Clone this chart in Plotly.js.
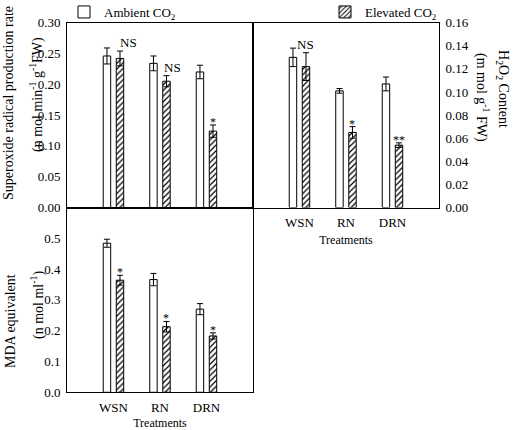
<!DOCTYPE html>
<html><head><meta charset="utf-8">
<script src="https://cdn.plot.ly/plotly-3.0.1.min.js"></script>
<style>html,body{margin:0;padding:0;background:#fff}#chart{width:520px;height:430px}</style>
</head><body><div id="chart"></div>
<script>
const categories = ['WSN', 'RN', 'DRN'];
const seriesNames = ['Ambient CO<sub>2</sub>', 'Elevated CO<sub>2</sub>'];
// Superoxide radical production rate
const supAmb = [0.246, 0.234, 0.220];
const supAmbErr = [0.013, 0.012, 0.011];
const supElev = [0.242, 0.205, 0.124];
const supElevErr = [0.012, 0.009, 0.010];
const supSig = ['NS', 'NS', '*'];
// H2O2 content
const h2o2Amb = [0.130, 0.101, 0.107];
const h2o2AmbErr = [0.008, 0.002, 0.006];
const h2o2Elev = [0.122, 0.065, 0.054];
const h2o2ElevErr = [0.012, 0.005, 0.002];
const h2o2Sig = ['NS', '*', '**'];
// MDA equivalent
const mdaAmb = [0.484, 0.366, 0.270];
const mdaAmbErr = [0.013, 0.020, 0.018];
const mdaElev = [0.364, 0.213, 0.183];
const mdaElevErr = [0.016, 0.017, 0.010];
const mdaSig = ['*', '*', '*'];

const FONT = '"Liberation Serif", "Times New Roman", serif';
const BW = 0.16;

function ambTrace(y, err, xa, ya, show) {
  return {type: 'bar', x: categories, y: y, xaxis: xa, yaxis: ya,
    name: seriesNames[0], legend: 'legend', showlegend: show,
    width: BW, offset: -0.22,
    marker: {color: '#ffffff', line: {color: '#000', width: 1}},
    error_y: {type: 'data', array: err, visible: true, color: '#000', thickness: 1, width: 3}};
}
function elevTrace(y, err, xa, ya, show) {
  return {type: 'bar', x: categories, y: y, xaxis: xa, yaxis: ya,
    name: seriesNames[1], legend: 'legend2', showlegend: show,
    width: BW, offset: 0.06,
    marker: {color: '#ffffff', line: {color: '#000', width: 1},
      pattern: {shape: '/', size: 4, solidity: 0.3, fgcolor: '#000', bgcolor: '#fff'}},
    error_y: {type: 'data', array: err, visible: true, color: '#000', thickness: 1, width: 3}};
}

const data = [
  ambTrace(supAmb, supAmbErr, 'x', 'y', true),
  elevTrace(supElev, supElevErr, 'x', 'y', true),
  ambTrace(h2o2Amb, h2o2AmbErr, 'x2', 'y2', false),
  elevTrace(h2o2Elev, h2o2ElevErr, 'x2', 'y2', false),
  ambTrace(mdaAmb, mdaAmbErr, 'x3', 'y3', false),
  elevTrace(mdaElev, mdaElevErr, 'x3', 'y3', false)
];

const X0 = 0.1288, X1 = 0.4865, X2 = 0.8442;
const Y0 = 0.0877, Y1 = 0.5174, Y2 = 0.9472;

const baseAx = {showline: true, mirror: true, linecolor: '#000', linewidth: 1,
  showgrid: false, zeroline: false, ticks: '', fixedrange: true,
  tickfont: {family: FONT, size: 13, color: '#000'}};
const xBase = Object.assign({}, baseAx, {type: 'category', range: [-1, 3], ticklabelstandoff: 3,
  title: {text: 'Treatments', font: {family: FONT, size: 12, color: '#000'}, standoff: 6}});

const annotations = [];
function sigAnn(sig, vals, errs, xa, ya, nsDx) {
  sig.forEach((s, i) => {
    const isNS = s === 'NS';
    annotations.push({xref: xa, yref: ya, x: i + (isNS ? nsDx[i] : 0.14), y: vals[i] + errs[i],
      text: s, showarrow: false, yanchor: 'bottom', xanchor: 'center',
      yshift: isNS ? -1 : -6,
      font: {family: FONT, size: isNS ? 13 : 12, color: '#000000'}});
  });
}
sigAnn(supSig, supElev, supElevErr, 'x', 'y', [0.33, 0.27, 0.14]);
sigAnn(h2o2Sig, h2o2Elev, h2o2ElevErr, 'x2', 'y2', [0.12, 0.14, 0.14]);
sigAnn(mdaSig, mdaElev, mdaElevErr, 'x3', 'y3', [0.14, 0.14, 0.14]);

const titleFont = {family: FONT, size: 14, color: '#000'};
annotations.push(
  {xref: 'paper', yref: 'paper', x: 8 / 520, y: 1 - 103 / 430, text: 'Superoxide radical production rate',
   textangle: -90, showarrow: false, xanchor: 'center', yanchor: 'middle', font: titleFont},
  {xref: 'paper', yref: 'paper', x: 37 / 520, y: 1 - 95 / 430, text: '(n mol min<sup>-1</sup> g<sup>-1</sup>FW)',
   textangle: -90, showarrow: false, xanchor: 'center', yanchor: 'middle', font: titleFont},
  {xref: 'paper', yref: 'paper', x: 10 / 520, y: 1 - 321 / 430, text: 'MDA equivalent',
   textangle: -90, showarrow: false, xanchor: 'center', yanchor: 'middle', font: titleFont},
  {xref: 'paper', yref: 'paper', x: 37 / 520, y: 1 - 305 / 430, text: '(n mol ml<sup>-1</sup>)',
   textangle: -90, showarrow: false, xanchor: 'center', yanchor: 'middle', font: titleFont},
  {xref: 'paper', yref: 'paper', x: 503 / 520, y: 1 - 89 / 430, text: 'H<sub>2</sub>O<sub>2</sub> Content',
   textangle: 90, showarrow: false, xanchor: 'center', yanchor: 'middle', font: titleFont},
  {xref: 'paper', yref: 'paper', x: 483 / 520, y: 1 - 97 / 430, text: '(m mol g<sup>-1</sup> FW)',
   textangle: 90, showarrow: false, xanchor: 'center', yanchor: 'middle', font: titleFont}
);

const legendBase = {orientation: 'h', yanchor: 'top', xanchor: 'left', y: 1 + 3 / 430,
  bgcolor: 'rgba(0,0,0,0)', borderwidth: 0,
  font: {family: FONT, size: 13, color: '#000'}};

const layout = {
  width: 520, height: 430,
  margin: {l: 0, r: 0, t: 0, b: 0, pad: 0, autoexpand: false},
  paper_bgcolor: '#fff', plot_bgcolor: '#fff',
  barmode: 'group',
  font: {family: FONT, color: '#000'},
  legend: Object.assign({}, legendBase, {x: 64 / 520}),
  legend2: Object.assign({}, legendBase, {x: 325 / 520}),
  xaxis: Object.assign({}, xBase, {domain: [X0, X1], anchor: 'y', showticklabels: false, title: {text: ''}}),
  yaxis: Object.assign({}, baseAx, {domain: [Y1, Y2], anchor: 'x', range: [0, 0.30], dtick: 0.05,
    tickformat: '.2f', ticklabelstandoff: 3}),
  xaxis2: Object.assign({}, xBase, {domain: [X1, X2], anchor: 'y2'}),
  yaxis2: Object.assign({}, baseAx, {domain: [Y1, Y2], anchor: 'x2', side: 'right', range: [0, 0.16],
    dtick: 0.02, tickformat: '.2f', ticklabelstandoff: 3}),
  xaxis3: Object.assign({}, xBase, {domain: [X0, X1], anchor: 'y3'}),
  yaxis3: Object.assign({}, baseAx, {domain: [Y0, Y1], anchor: 'x3', range: [0, 0.6],
    tickvals: [0, 0.1, 0.2, 0.3, 0.4, 0.5], tickformat: '.1f', ticklabelstandoff: 3}),
  annotations: annotations
};

Plotly.newPlot('chart', data, layout, {displayModeBar: false, staticPlot: true});
</script></body></html>
